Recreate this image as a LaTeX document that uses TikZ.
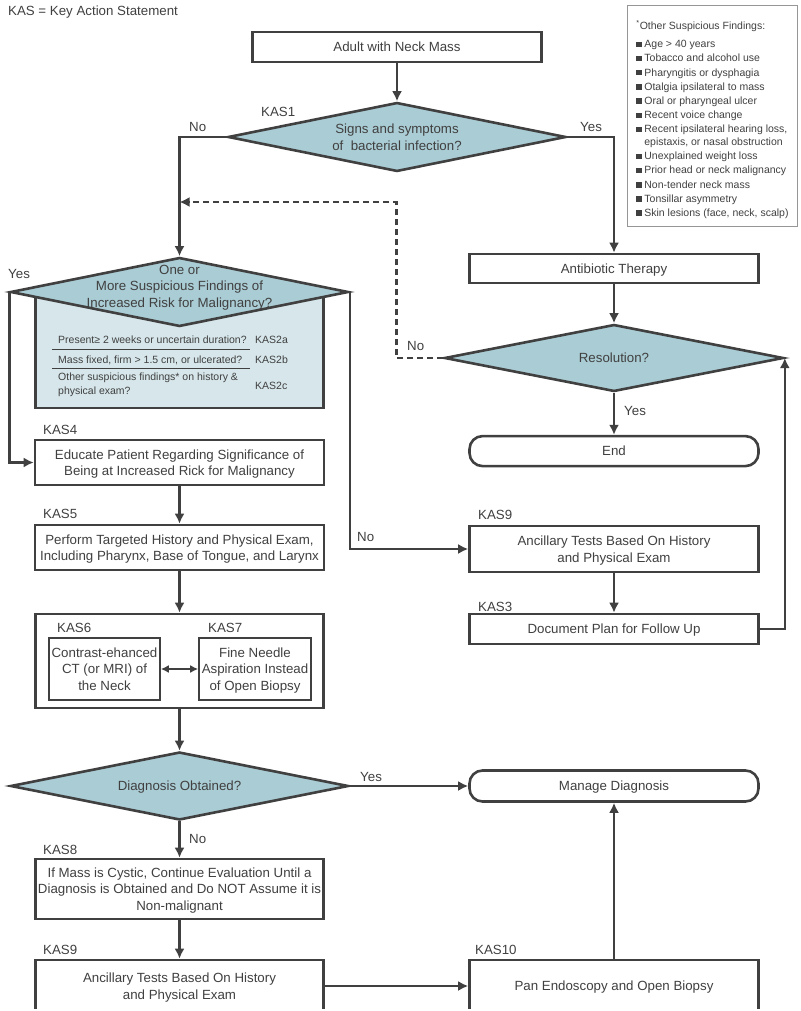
\documentclass[tikz,border=0pt]{standalone}
\usepackage{fontspec}
\setmainfont{Liberation Sans}
\usetikzlibrary{positioning, shapes.geometric, arrows.meta}
\definecolor{linegray}{RGB}{64,64,64}
\definecolor{diafill}{RGB}{170,204,212}
\definecolor{critfill}{RGB}{214,230,234}
\definecolor{framegray}{RGB}{150,150,150}
\newcommand{\finding}[1]{\makebox[8pt][l]{\rule[0.6pt]{5.5pt}{5.5pt}}#1}
\tikzset{
	box/.style={draw=linegray, line width=2.6pt, rectangle, fill=white, inner xsep=1pt, inner ysep=2pt, minimum width=289pt, align=center, text=linegray, text depth=0pt, font=\fontsize{13.3}{16.5}\selectfont},
	terminal/.style={box, rounded corners=13pt},
	decision/.style={draw=linegray, line width=2.6pt, diamond, aspect=4.9, fill=diafill, inner sep=0pt, minimum width=338pt, minimum height=69pt, align=center, text=linegray, text depth=0pt, font=\fontsize{13.3}{16.5}\selectfont},
	subbox/.style={draw=linegray, line width=1.6pt, rectangle, inner sep=1pt, minimum height=62pt, align=center, text=linegray, text depth=0pt, font=\fontsize{13.3}{16.5}\selectfont},
	% labels next to boxes and arrows
	kas/.style={anchor=west, inner sep=0pt, text=linegray, font=\fontsize{13.3}{16}\selectfont},
	answer/.style={kas},
	crit/.style={anchor=west, inner sep=0pt, align=left, text=linegray, font=\fontsize{10.5}{13.5}\selectfont},
}

\begin{document}
\begin{tikzpicture}[x=1pt, y=-1pt]
	\useasboundingbox (0,0) rectangle (800,1011);
	\clip (0,0) rectangle (800,1008);

	\node (key) [kas] at (8,12) {KAS = Key Action Statement};

	% findings list, top right
	\node (legend) [draw=framegray, line width=0.8pt, anchor=north west, minimum width=169pt, minimum height=216pt, inner xsep=9pt, inner ysep=8pt, align=left, text=linegray, font=\fontsize{10.5}{14.2}\selectfont] at (627,5) {%
		\rule{0pt}{16pt}\textsuperscript{*}Other Suspicious Findings:\\[4pt]
		\finding{Age > 40 years}\\
		\finding{Tobacco and alcohol use}\\
		\finding{Pharyngitis or dysphagia}\\
		\finding{Otalgia ipsilateral to mass}\\
		\finding{Oral or pharyngeal ulcer}\\
		\finding{Recent voice change}\\
		\finding{Recent ipsilateral hearing loss,}\\[-1.5pt]
		\hspace*{8pt}epistaxis, or nasal obstruction\\
		\finding{Unexplained weight loss}\\
		\finding{Prior head or neck malignancy}\\
		\finding{Non-tender neck mass}\\
		\finding{Tonsillar asymmetry}\\
		\finding{Skin lesions (face, neck, scalp)}};

	\node (start) [box, minimum height=30pt] at (397,47) {Adult with Neck Mass};
	\node (bact) [decision] at (397,137) {Signs and symptoms\\of\ \ bacterial infection?};
	\node (kas1) [kas] at (261,112) {KAS1};
	\node (bact-no) [answer] at (189,127) {No};
	\node (bact-yes) [answer] at (580,127) {Yes};

	% right branch
	\node (antib) [box, minimum height=29pt] at (614,268.5) {Antibiotic Therapy};
	\node (resol) [decision, minimum width=339pt, minimum height=67pt] at (614,358) {Resolution?};
	\node (end) [terminal, minimum height=30pt, below=42pt of resol] {End};
	\node (resol-no) [answer] at (407,346) {No};
	\node (resol-yes) [answer] at (624,411) {Yes};
	\coordinate (join) at (179.5,202);

	% suspicious findings
	\node (crit) [rectangle, draw=linegray, line width=2.6pt, fill=critfill, minimum width=288pt, minimum height=116pt] at (179.5,350) {};
	\node (riskq) [decision] at (179.5,292) {};
	\node (riskq-txt) [align=center, inner sep=0pt, text=linegray, text depth=0pt, font=\fontsize{13.3}{16.5}\selectfont] at (179.5,286) {One or\\More Suspicious Findings of\\Increased Risk for Malignancy?};
	\node (c2a) [crit] at (58,340) {Present≥ 2 weeks or uncertain duration?};
	\node (c2b) [crit] at (58,360) {Mass fixed, firm > 1.5 cm, or ulcerated?};
	\node (c2c) [crit] at (58,385) {Other suspicious findings* on history \&\\physical exam?};
	\node (kas2a) [crit] at (255,340) {KAS2a};
	\node (kas2b) [crit] at (255,360) {KAS2b};
	\node (kas2c) [crit] at (255,386) {KAS2c};
	\draw[linegray, line width=0.8pt] (52,349) -- (250,349);
	\draw[linegray, line width=0.8pt] (52,368) -- (250,368);
	\node (riskq-yes) [answer] at (8,274) {Yes};
	\node (riskq-no) [answer] at (357,537) {No};

	% left column
	\node (educate) [box, minimum height=45pt] at (179.5,462.5) {Educate Patient Regarding Significance of\\Being at Increased Rick for Malignancy};
	\node (kas4) [kas] at (43,430) {KAS4};
	\node (perform) [box, minimum height=45pt] at (179.5,547.5) {Perform Targeted History and Physical Exam,\\Including Pharynx, Base of Tongue, and Larynx};
	\node (kas5) [kas] at (43,514) {KAS5};

	\node (grp) [box, minimum width=288pt, minimum height=94pt] at (179.5,661) {};
	\node (ct) [subbox, minimum width=111pt] at (104.5,669) {Contrast-ehanced\\CT (or MRI) of\\the Neck};
	\node (fna) [subbox, minimum width=112pt] at (255,669) {Fine Needle\\Aspiration Instead\\of Open Biopsy};
	\node (kas6) [kas] at (57,628) {KAS6};
	\node (kas7) [kas] at (208,628) {KAS7};

	\node (diag) [decision, minimum height=68pt] at (179.5,786) {Diagnosis Obtained?};
	\node (diag-yes) [answer] at (360,777) {Yes};
	\node (diag-no) [answer] at (189,839) {No};
	\node (manage) [terminal, minimum height=31pt] at (614,786) {Manage Diagnosis};

	\node (cystic) [box, minimum width=288pt, minimum height=60pt] at (179.5,889) {If Mass is Cystic, Continue Evaluation Until a\\Diagnosis is Obtained and Do NOT Assume it is\\Non-malignant};
	\node (kas8) [kas] at (43,850) {KAS8};
	\node (anc) [box, minimum width=288pt, minimum height=52pt] at (179.5,986) {Ancillary Tests Based On History\\and Physical Exam};
	\node (kas9b) [kas] at (43,950) {KAS9};
	\node (biopsy) [box, minimum height=52pt] at (614,986) {Pan Endoscopy and Open Biopsy};
	\node (kas10) [kas] at (475,950) {KAS10};

	% right column, lower part
	\node (tests) [box, minimum height=46pt] at (614,549) {Ancillary Tests Based On History\\and Physical Exam};
	\node (kas9) [kas] at (478,515) {KAS9};
	\node (plan) [box, minimum height=30pt] at (614,629) {Document Plan for Follow Up};
	\node (kas3) [kas] at (478,607) {KAS3};

	\begin{scope}[line width=2.6pt, draw=linegray, ->, >={Latex[length=10pt,width=10pt]}]
		\draw (start) -- (bact);
		\draw (bact.west) -| (riskq.north);
		\draw (bact.east) -| (antib.north);
		\draw (antib) -- (resol);
		\draw (resol) -- (end);
		\draw[dash pattern=on 6pt off 4pt] (resol.west) -- ++(-47,0) |- (join);
		\draw (riskq.west) |- (educate.west);
		\draw (riskq.east) |- (tests.west);
		\draw (tests) -- (plan);
		\draw (plan.east) -| (resol.east);
		\draw (educate) -- (perform);
		\draw (perform) -- (grp);
		\draw (grp) -- (diag);
		\draw (diag) -- (manage);
		\draw (diag) -- (cystic);
		\draw (cystic) -- (anc);
		\draw (anc) -- (biopsy);
		\draw (biopsy) -- (manage);
		\draw[<->, line width=1.8pt, >={Latex[length=8pt,width=8pt]}] (ct) -- (fna);
	\end{scope}
\end{tikzpicture}
\end{document}
